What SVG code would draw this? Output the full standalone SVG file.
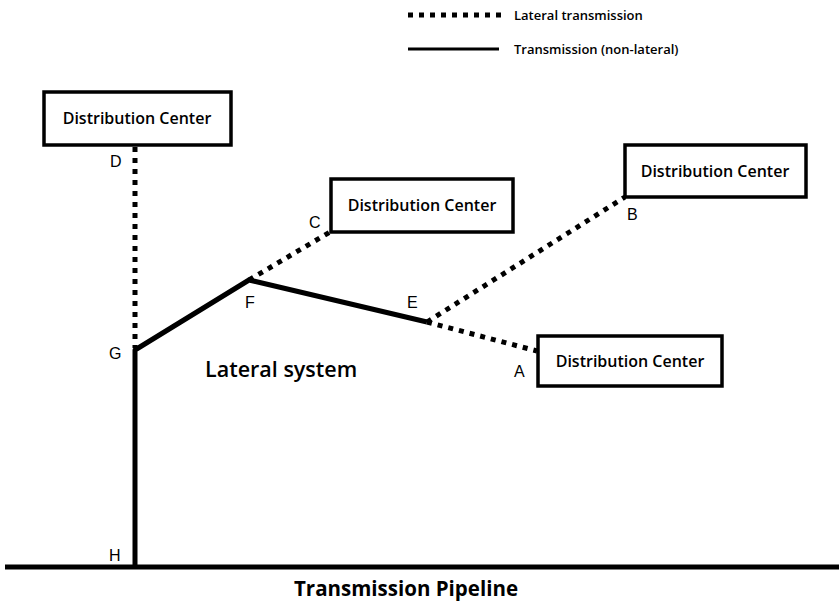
<svg xmlns="http://www.w3.org/2000/svg" width="839" height="602" viewBox="0 0 839 602">
<style>
.box{fill:#fff;stroke:#000;stroke-width:3.5}
.bt{font-family:"Open Sans","Liberation Sans",sans-serif;font-size:16px;font-weight:600;text-anchor:middle;fill:#000}
.lbl{font-family:"Liberation Sans",Arial,sans-serif;font-size:16px;fill:#000}
.dot{fill:none;stroke:#000;stroke-width:5;stroke-dasharray:5 6}
.sol{fill:none;stroke:#000;stroke-width:5;stroke-linejoin:round}
.leg{font-family:"Open Sans","Liberation Sans",sans-serif;font-size:13px;font-weight:600;fill:#000}
</style>
<rect width="839" height="602" fill="#fff"/>
<g id="legend">
<line class="dot" x1="408" y1="15" x2="505" y2="15"/>
<text class="leg" x="514" y="20">Lateral transmission</text>
<line x1="408" y1="49" x2="499" y2="49" stroke="#000" stroke-width="3"/>
<text class="leg" x="514" y="54">Transmission (non-lateral)</text>
</g>
<g id="connectors">
<line class="dot" x1="135" y1="147" x2="135" y2="348"/>
<line class="dot" x1="249" y1="280" x2="330" y2="232"/>
<line class="dot" x1="427" y1="322" x2="625" y2="197"/>
<line class="dot" x1="427" y1="322" x2="537" y2="351"/>
<polyline class="sol" points="135,566 135,350 249,280 427,322"/>
<line x1="5" y1="567" x2="839" y2="567" stroke="#000" stroke-width="5"/>
</g>
<g id="dcD">
<rect class="box" x="44" y="92" width="187" height="53"/>
<text class="bt" x="137" y="124">Distribution Center</text>
</g>
<g id="dcC">
<rect class="box" x="331" y="179" width="182" height="53"/>
<text class="bt" x="422" y="211">Distribution Center</text>
</g>
<g id="dcB">
<rect class="box" x="625" y="145" width="181" height="52"/>
<text class="bt" x="715" y="177">Distribution Center</text>
</g>
<g id="dcA">
<rect class="box" x="538" y="336" width="184" height="50"/>
<text class="bt" x="630" y="367">Distribution Center</text>
</g>
<g id="labels">
<text class="lbl" x="110" y="167">D</text>
<text class="lbl" x="309" y="228">C</text>
<text class="lbl" x="627" y="220">B</text>
<text class="lbl" x="245" y="308">F</text>
<text class="lbl" x="407" y="308">E</text>
<text class="lbl" x="514" y="377">A</text>
<text class="lbl" x="109" y="359">G</text>
<text class="lbl" x="109" y="561">H</text>
<text x="205" y="377" font-family="Open Sans,Liberation Sans,sans-serif" font-size="21.5" font-weight="600">Lateral system</text>
<text x="406" y="596" font-family="Open Sans,Liberation Sans,sans-serif" font-size="20.5" font-weight="700" text-anchor="middle">Transmission Pipeline</text>
</g>
</svg>
